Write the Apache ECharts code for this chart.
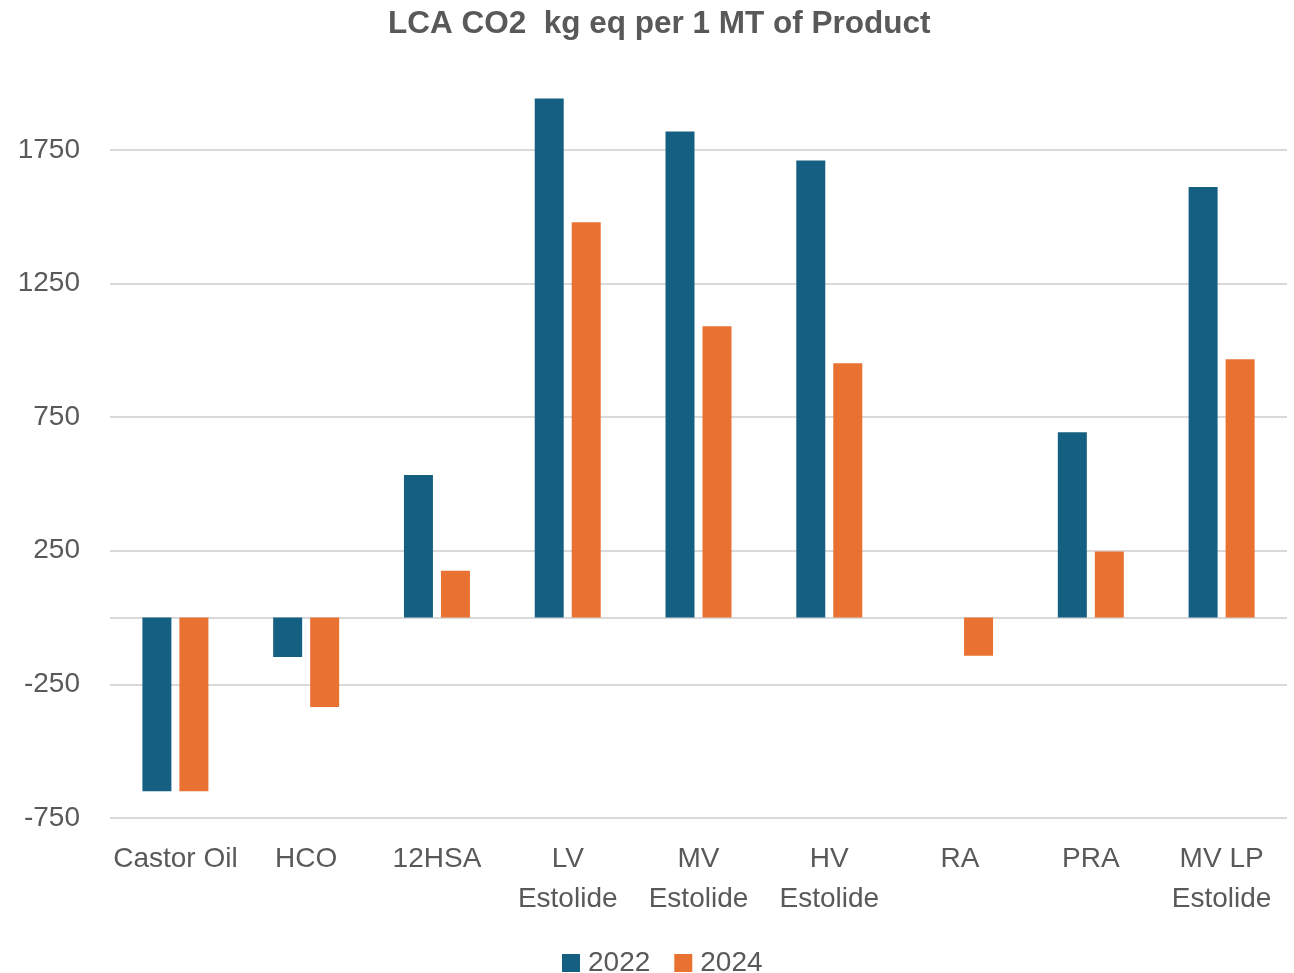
<!DOCTYPE html>
<html>
<head>
<meta charset="utf-8">
<title>LCA CO2 kg eq per 1 MT of Product</title>
<script src="https://cdn.jsdelivr.net/npm/echarts@6/dist/echarts.min.js"></script>
<style>
  html, body { margin: 0; padding: 0; background: #ffffff; }
  #chart { width: 1294px; height: 973px; }
</style>
</head>
<body>
<div id="chart"></div>
<script>
// Products and life-cycle CO2 emissions (kg CO2 eq per 1 MT of product)
const categories = ['Castor Oil', 'HCO', '12HSA', 'LV\nEstolide', 'MV\nEstolide', 'HV\nEstolide', 'RA', 'PRA', 'MV LP\nEstolide'];
const values2022 = [-650, -148, 533, 1942, 1819, 1710, 0, 693, 1611];
const values2024 = [-650, -335, 175, 1479, 1090, 951, -143, 247, 966];
const seriesNames = ['2022', '2024'];
// Value labels shown on the axis
const yTickLabels = [-750, -250, 250, 750, 1250, 1750];

const GRID = '#d9d9d9';
const TEXT = '#595959';
const FONT = '"Liberation Sans", Arial, sans-serif';

// Axis runs in steps of 250; gridlines are drawn at the labelled steps and at zero
const yMin = -750, yMax = 2000, yStep = 250;
const gridColors = [];
for (let v = yMin; v <= yMax; v += yStep) {
  gridColors.push(yTickLabels.includes(v) || v === 0 ? GRID : 'rgba(0,0,0,0)');
}

const chart = echarts.init(document.getElementById('chart'), null, { renderer: 'canvas' });

chart.setOption({
  backgroundColor: '#ffffff',
  animation: false,
  title: {
    text: 'LCA CO2  kg eq per 1 MT of Product',
    left: 383,
    top: 3,
    textStyle: {
      fontFamily: '"Liberation Sans Narrow", "Liberation Sans", Arial, sans-serif',
      fontWeight: 'bold',
      fontSize: 31.5,
      color: TEXT
    }
  },
  legend: {
    data: seriesNames,
    top: 944,
    left: 557,
    itemWidth: 18,
    itemHeight: 18,
    itemGap: 24,
    icon: 'rect',
    textStyle: { fontFamily: FONT, fontSize: 28, color: TEXT, padding: [0, 0, 0, 3] }
  },
  grid: { left: 110, right: 7, top: 83, bottom: 155, containLabel: false },
  xAxis: {
    type: 'category',
    data: categories,
    axisLine: { show: false },
    axisTick: { show: false },
    axisLabel: {
      interval: 0,
      margin: 21,
      fontFamily: FONT,
      fontSize: 28,
      lineHeight: 40,
      color: TEXT
    },
    splitLine: { show: false }
  },
  yAxis: {
    type: 'value',
    min: yMin,
    max: yMax,
    interval: yStep,
    axisLine: { show: false },
    axisTick: { show: false },
    axisLabel: {
      margin: 30,
      fontFamily: FONT,
      fontSize: 28,
      color: TEXT,
      formatter: v => (yTickLabels.includes(v) ? String(v) : '')
    },
    splitLine: { show: true, lineStyle: { color: gridColors, width: 2 } }
  },
  series: [
    {
      name: seriesNames[0],
      type: 'bar',
      data: values2022,
      barWidth: 29,
      barGap: '27.6%',
      itemStyle: { color: '#156082' }
    },
    {
      name: seriesNames[1],
      type: 'bar',
      data: values2024,
      barWidth: 29,
      barGap: '27.6%',
      itemStyle: { color: '#E97132' }
    }
  ]
});
</script>
</body>
</html>
